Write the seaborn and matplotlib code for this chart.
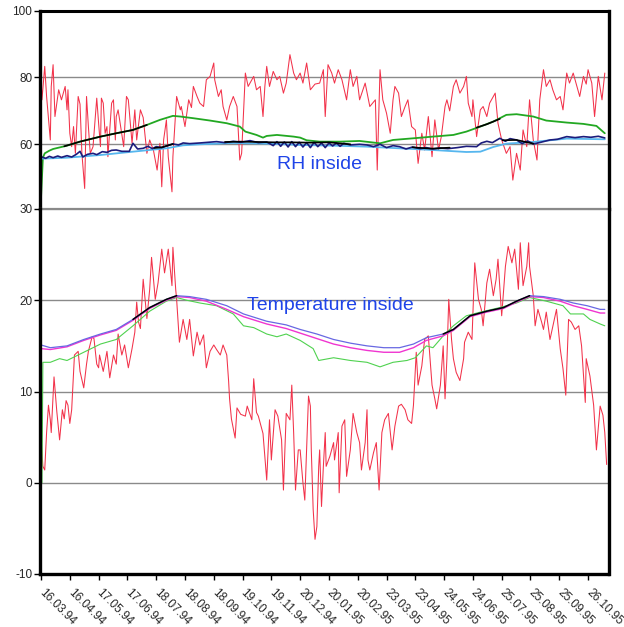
import matplotlib
matplotlib.use("Agg")
import matplotlib.pyplot as plt
import pandas as pd
import seaborn as sns

# Days counted from 16.03.94; x ticks every 31 days
tick_days = [0, 31, 62, 93, 124, 155, 186, 217, 248, 279, 310, 341, 372, 403, 434, 465, 496, 527, 558, 589]
tick_dates = ["16.03.94", "16.04.94", "17.05.94", "17.06.94", "18.07.94", "18.08.94",
              "18.09.94", "19.10.94", "19.11.94", "20.12.94", "20.01.95", "20.02.95",
              "23.03.95", "23.04.95", "24.05.95", "24.06.95", "25.07.95", "25.08.95",
              "25.09.95", "26.10.95"]
rh_ticks = [60, 80, 100]
temp_ticks = [-10, 0, 10, 20, 30]

# Relative humidity (%), (day, value)
rh_outside = [(0, 80.0), (1, 73.3), (4, 83.3), (6, 74.3), (10, 61.3), (11, 77.3), (13, 83.8), (15, 68.3),
              (19, 76.3), (22, 73.3), (26, 77.3), (28, 70.3), (29, 76.3), (31, 63.3), (33, 59.3), (35, 65.3),
              (37, 57.3), (40, 74.3), (42, 72.0), (44, 57.3), (47, 46.8), (49, 74.3), (51, 65.3), (53, 57.3),
              (56, 59.3), (60, 73.8), (62, 66.3), (64, 59.3), (65, 73.8), (67, 72.3), (69, 63.3), (71, 65.3),
              (72, 56.3), (76, 72.3), (78, 73.3), (80, 61.3), (81, 68.3), (83, 70.3), (89, 59.3), (92, 74.3),
              (94, 73.3), (98, 60.3), (101, 70.3), (103, 61.3), (107, 70.3), (110, 68.0), (114, 57.3),
              (117, 61.3), (121, 58.3), (125, 52.3), (128, 60.3), (130, 47.3), (132, 61.3), (135, 67.3),
              (137, 56.3), (141, 45.8), (142, 56.3), (146, 74.3), (150, 70.3), (151, 71.3), (155, 65.3),
              (159, 73.3), (162, 71.0), (164, 77.3), (168, 74.3), (171, 72.3), (175, 71.3), (178, 79.3),
              (182, 80.3), (186, 84.3), (187, 79.3), (191, 74.3), (194, 76.3), (196, 71.3), (200, 67.3),
              (203, 71.3), (207, 74.3), (211, 71.3), (214, 55.3), (216, 57.3), (220, 81.3), (223, 77.3),
              (229, 80.3), (232, 76.3), (236, 77.3), (239, 68.3), (241, 77.3), (243, 83.3), (246, 77.3),
              (250, 81.8), (254, 79.3), (257, 80.3), (261, 75.3), (264, 78.3), (268, 86.8), (272, 81.3),
              (275, 79.3), (279, 81.3), (282, 78.3), (286, 84.3), (290, 76.3), (295, 78.0), (300, 78.3),
              (304, 82.3), (306, 68.3), (309, 83.8), (313, 81.3), (316, 78.3), (320, 82.3), (324, 79.3),
              (329, 73.3), (333, 82.3), (336, 77.3), (340, 80.3), (343, 73.3), (349, 78.3), (354, 71.3),
              (360, 73.3), (362, 52.3), (365, 82.3), (368, 73.3), (372, 69.3), (376, 63.3), (379, 73.3),
              (381, 77.3), (385, 75.3), (388, 68.3), (392, 71.3), (395, 73.3), (399, 65.3), (403, 64.3),
              (406, 54.3), (410, 63.3), (413, 58.3), (417, 68.3), (421, 56.3), (424, 67.3), (428, 58.3),
              (431, 62.3), (435, 71.3), (437, 73.3), (440, 70.0), (444, 77.3), (447, 79.3), (451, 75.3),
              (455, 77.3), (458, 80.3), (460, 72.3), (464, 68.3), (465, 73.3), (469, 62.3), (473, 70.3),
              (476, 71.3), (480, 68.3), (483, 72.3), (489, 75.3), (492, 66.3), (496, 61.3), (501, 57.3),
              (505, 59.3), (508, 49.3), (512, 57.3), (516, 52.3), (519, 64.3), (523, 59.3), (526, 73.3),
              (530, 61.3), (534, 55.3), (537, 73.3), (541, 82.3), (544, 77.3), (548, 79.3), (551, 76.3),
              (555, 73.3), (559, 74.3), (562, 70.3), (566, 81.3), (569, 78.3), (573, 81.3), (577, 77.3),
              (580, 74.3), (584, 80.3), (587, 78.0), (589, 82.3), (593, 78.3), (596, 68.3), (600, 80.3),
              (604, 73.3), (607, 81.3)]

rh_green = [(0, 44.0), (2, 56.0), (4, 57.3), (9, 58.1), (13, 58.6), (28, 59.6), (42, 60.8), (64, 62.3),
            (81, 63.3), (99, 64.3), (114, 65.8), (128, 67.3), (142, 68.5), (150, 68.3), (164, 67.8),
            (182, 67.1), (200, 66.3), (214, 65.3), (220, 63.8), (232, 62.8), (239, 62.0), (243, 62.5),
            (254, 62.8), (272, 62.3), (279, 62.0), (286, 61.2), (300, 60.8), (322, 60.8), (343, 61.0),
            (365, 60.3), (379, 61.3), (401, 61.8), (422, 62.3), (444, 62.8), (458, 63.8), (473, 65.3),
            (487, 66.8), (501, 68.8), (512, 69.0), (530, 68.3), (544, 67.1), (566, 66.5), (584, 66.1),
            (598, 65.5), (607, 63.3)]

rh_light = [(0, 55.7), (28, 56.0), (64, 56.8), (99, 57.8), (135, 58.8), (153, 59.7), (171, 60.0),
            (207, 60.4), (243, 60.2), (279, 59.8), (315, 59.6), (351, 59.3), (386, 58.8), (422, 58.3),
            (458, 57.7), (473, 57.8), (487, 59.2), (501, 60.2), (530, 60.7), (566, 61.7), (607, 61.5)]

rh_navy = [(0, 56.3), (5, 55.8), (9, 56.4), (13, 56.0), (18, 56.5), (22, 56.1), (28, 56.6), (33, 56.2),
           (38, 57.0), (42, 57.9), (45, 56.2), (50, 57.0), (56, 57.3), (60, 56.9), (66, 57.8), (71, 57.6),
           (76, 58.2), (81, 58.3), (87, 57.9), (95, 57.9), (99, 60.3), (104, 58.6), (110, 58.8),
           (115, 59.4), (120, 58.7), (124, 59.3), (130, 59.0), (135, 59.5), (142, 60.1), (148, 59.8),
           (153, 60.4), (160, 60.2), (171, 60.4), (180, 60.6), (189, 60.8), (198, 60.5), (207, 60.9),
           (215, 60.6), (225, 61.1), (234, 60.5), (243, 60.7), (250, 59.6), (254, 60.8), (258, 59.4),
           (262, 60.7), (266, 59.2), (270, 60.8), (274, 59.3), (278, 60.6), (282, 59.2), (286, 60.5),
           (290, 59.0), (294, 60.6), (298, 59.3), (302, 60.4), (306, 59.0), (310, 60.4), (314, 59.5),
           (318, 60.4), (322, 59.4), (326, 60.3), (333, 59.8), (343, 60.0), (351, 59.8), (358, 59.3),
           (365, 60.0), (372, 59.0), (379, 59.6), (386, 59.3), (393, 58.6), (400, 59.2), (408, 58.7),
           (415, 59.0), (422, 58.6), (430, 58.9), (438, 58.7), (448, 59.0), (458, 59.4), (469, 59.3),
           (474, 60.4), (480, 60.9), (486, 60.5), (494, 61.8), (500, 60.9), (505, 61.7), (512, 61.3),
           (518, 60.2), (524, 61.0), (530, 60.1), (538, 60.6), (548, 61.3), (556, 61.5), (566, 62.3),
           (575, 62.0), (584, 62.3), (592, 62.1), (600, 62.4), (607, 61.9)]

rh_black_segments = [
    [(25, 59.4), (42, 60.8), (64, 62.3), (81, 63.3), (99, 64.3), (114, 65.8)],
    [(122, 58.9), (130, 59.1), (142, 60.1)],
    [(198, 60.7), (215, 60.8), (234, 60.7), (250, 60.6), (268, 60.6), (290, 60.5), (310, 60.6), (333, 60.0)],
    [(400, 59.1), (420, 58.7), (440, 59.0)],
    [(469, 65.0), (480, 66.0), (494, 67.6)],
    [(497, 61.2), (512, 61.3), (530, 60.2)],
]

# Temperature (deg C), (day, value)
temp_outside = [(0, 5.0), (2, 1.8), (4, 1.4), (6, 5.5), (8, 8.5), (10, 6.9), (11, 5.5), (13, 9.5),
                (14, 11.6), (17, 7.8), (20, 4.7), (23, 8.0), (25, 7.0), (27, 9.0), (29, 8.5), (31, 6.5),
                (33, 8.0), (36, 14.0), (40, 14.4), (42, 12.2), (46, 10.4), (49, 13.0), (51, 14.4),
                (55, 16.0), (57, 15.8), (60, 13.0), (62, 12.6), (63, 14.0), (67, 12.2), (71, 14.4),
                (74, 11.5), (78, 14.0), (81, 13.0), (83, 16.3), (87, 14.0), (90, 15.1), (94, 12.6),
                (98, 14.7), (101, 16.5), (103, 19.8), (105, 17.6), (107, 16.9), (110, 22.3), (114, 18.0),
                (117, 21.2), (119, 24.7), (123, 20.1), (126, 21.9), (130, 25.6), (133, 23.0), (137, 25.6),
                (141, 21.6), (142, 25.8), (145, 21.2), (146, 20.1), (149, 15.4), (153, 17.9), (157, 15.7),
                (160, 17.9), (164, 13.9), (168, 16.5), (171, 15.1), (175, 16.2), (178, 12.6), (182, 14.4),
                (186, 15.1), (189, 14.6), (193, 14.0), (196, 15.1), (200, 14.0), (202, 11.1), (203, 9.2),
                (205, 7.0), (209, 4.9), (211, 8.2), (215, 7.5), (220, 7.3), (222, 8.4), (227, 6.9),
                (229, 11.4), (232, 7.7), (234, 7.3), (239, 5.4), (243, 0.3), (246, 6.9), (248, 2.5),
                (252, 8.0), (255, 7.3), (259, 4.7), (261, -0.8), (264, 7.6), (268, 6.9), (270, 10.7),
                (272, 5.5), (274, -0.8), (277, 3.6), (279, 3.6), (282, 0.0), (284, -1.9), (288, 9.5),
                (290, 8.4), (291, 3.6), (293, -2.9), (295, -6.2), (297, -4.8), (299, 1.8), (300, 3.6),
                (302, -2.6), (304, 1.8), (306, 5.5), (307, 1.8), (311, 2.9), (315, 4.4), (316, 2.5),
                (320, 5.5), (321, -1.1), (324, 6.2), (327, 6.9), (329, 0.7), (333, 3.6), (336, 7.6),
                (340, 5.5), (343, 4.4), (345, 1.4), (349, 4.4), (351, 8.0), (352, 2.5), (354, 1.4),
                (358, 3.3), (361, 4.4), (364, -0.8), (367, 5.5), (370, 6.9), (374, 7.6), (378, 3.6),
                (381, 6.2), (385, 8.4), (388, 8.6), (392, 8.0), (395, 6.9), (399, 6.5), (401, 8.5),
                (404, 14.3), (406, 10.7), (410, 12.8), (413, 15.7), (417, 16.1), (421, 10.7), (424, 9.2),
                (426, 8.1), (430, 10.7), (433, 15.0), (435, 9.2), (437, 13.6), (439, 20.1), (442, 15.7),
                (444, 13.6), (447, 12.1), (451, 11.2), (455, 13.6), (456, 15.4), (460, 16.5), (464, 15.7),
                (467, 24.1), (471, 20.1), (474, 19.0), (476, 17.2), (480, 21.9), (483, 23.4), (487, 20.5),
                (490, 22.3), (492, 24.5), (496, 18.3), (500, 23.7), (503, 25.9), (507, 24.1), (510, 25.6),
                (514, 21.2), (516, 26.3), (519, 21.6), (523, 23.7), (525, 26.3), (526, 23.7), (530, 20.5),
                (532, 17.2), (535, 19.0), (539, 17.6), (541, 16.8), (544, 18.7), (548, 15.7), (552, 17.6),
                (555, 19.0), (559, 14.7), (562, 12.5), (565, 9.6), (568, 17.9), (571, 17.6), (575, 16.8),
                (579, 17.2), (582, 15.0), (586, 8.8), (587, 13.6), (591, 11.7), (595, 8.5), (598, 3.6),
                (602, 8.4), (605, 7.4), (607, 5.5), (609, 2.0)]

temp_blue = [(0, 15.1), (10, 14.8), (28, 15.0), (46, 15.7), (64, 16.3), (81, 16.8), (99, 17.9),
             (117, 19.2), (135, 20.1), (146, 20.5), (160, 20.4), (178, 20.1), (200, 19.4), (218, 18.5),
             (243, 17.7), (264, 17.3), (279, 16.8), (297, 16.3), (315, 15.7), (333, 15.3), (351, 15.0),
             (369, 14.8), (386, 14.8), (401, 15.2), (415, 15.9), (433, 16.3), (444, 16.8), (462, 18.3),
             (480, 18.8), (498, 19.2), (512, 19.9), (526, 20.5), (541, 20.4), (559, 20.1), (573, 19.7),
             (588, 19.4), (602, 19.0), (607, 19.0)]

temp_magenta = [(0, 14.7), (10, 14.6), (28, 14.9), (46, 15.6), (64, 16.2), (81, 16.7), (99, 17.8),
                (117, 19.1), (135, 20.0), (146, 20.4), (160, 20.3), (178, 19.9), (200, 19.0), (218, 18.2),
                (243, 17.4), (264, 16.9), (279, 16.4), (297, 15.8), (315, 15.2), (333, 14.8), (351, 14.5),
                (369, 14.3), (386, 14.3), (401, 14.8), (415, 15.6), (433, 16.1), (444, 16.7), (462, 18.2),
                (480, 18.7), (498, 19.1), (512, 19.8), (526, 20.4), (541, 20.3), (559, 19.9), (573, 19.4),
                (588, 19.0), (602, 18.6), (607, 18.6)]

temp_green = [(1, 0.0), (2, 13.2), (10, 13.2), (20, 13.6), (28, 13.4), (46, 14.3), (64, 15.2), (81, 15.7),
              (99, 17.2), (117, 18.8), (135, 19.9), (146, 20.3), (157, 20.0), (171, 19.7), (189, 19.4),
              (207, 18.5), (218, 17.2), (229, 17.0), (243, 16.3), (254, 16.0), (264, 16.3), (279, 15.6),
              (293, 14.7), (299, 13.4), (315, 13.7), (333, 13.4), (351, 13.2), (365, 12.7), (379, 13.2),
              (394, 13.4), (403, 13.7), (415, 15.0), (422, 14.8), (433, 16.1), (444, 17.2), (458, 18.3),
              (473, 18.7), (494, 19.2), (512, 19.7), (526, 20.3), (544, 19.9), (562, 19.4), (570, 18.5),
              (584, 18.5), (591, 17.9), (602, 17.4), (607, 17.2)]

temp_black_segments = [
    [(99, 17.9), (117, 19.2), (135, 20.1), (146, 20.5)],
    [(433, 16.3), (444, 16.8), (462, 18.3), (480, 18.8), (498, 19.2), (512, 19.9), (526, 20.5)],
]


def frame(pairs):
    return pd.DataFrame(pairs, columns=["day", "value"])


def segments_frame(segments):
    rows = [(d, v, i) for i, seg in enumerate(segments) for d, v in seg]
    return pd.DataFrame(rows, columns=["day", "value", "seg"])


sns.set_theme(style="white")
plt.rcParams["font.family"] = ["Liberation Sans", "DejaVu Sans"]

fig = plt.figure(figsize=(6.24, 6.27), dpi=100)
left, width = 40 / 624, 568.5 / 624
top, mid, bottom = 1 - 10.5 / 627, 1 - 209 / 627, 1 - 574 / 627
ax_rh = fig.add_axes([left, mid, width, top - mid])
ax_t = fig.add_axes([left, bottom, width, mid - bottom])

line_kw = dict(x="day", y="value", estimator=None, legend=False)

# Upper panel: relative humidity
sns.lineplot(data=frame(rh_outside), ax=ax_rh, color="#f2324a", lw=0.75, **line_kw)
sns.lineplot(data=frame(rh_green), ax=ax_rh, color="#22a822", lw=1.3, **line_kw)
sns.lineplot(data=frame(rh_light), ax=ax_rh, color="#56b6ee", lw=1.3, **line_kw)
sns.lineplot(data=frame(rh_navy), ax=ax_rh, color="#1c1c7c", lw=1.2, **line_kw)
sns.lineplot(data=segments_frame(rh_black_segments), ax=ax_rh, units="seg", color="black", lw=1.2, **line_kw)

# Lower panel: temperature
sns.lineplot(data=frame(temp_outside), ax=ax_t, color="#f2324a", lw=0.75, **line_kw)
sns.lineplot(data=frame(temp_green), ax=ax_t, color="#4fd24f", lw=0.8, **line_kw)
sns.lineplot(data=frame(temp_magenta), ax=ax_t, color="#f035d0", lw=1.0, **line_kw)
sns.lineplot(data=frame(temp_blue), ax=ax_t, color="#6868e2", lw=0.9, **line_kw)
sns.lineplot(data=segments_frame(temp_black_segments), ax=ax_t, units="seg", color="black", lw=1.1, **line_kw)

label_color = "#1f44e8"
ax_rh.text(300, 52.5, "RH inside", color=label_color, fontsize=14, ha="center", va="baseline")
ax_t.text(311.5, 18.93, "Temperature inside", color=label_color, fontsize=14, ha="center", va="baseline")

for ax in (ax_rh, ax_t):
    ax.set_xlim(-1.1, 611)
    ax.set_xlabel("")
    ax.set_ylabel("")
    ax.grid(axis="y", color="#8a8a8a", lw=1.0)
    ax.grid(axis="x", visible=False)
    ax.tick_params(axis="y", direction="out", length=4, width=1, color="black",
                   labelsize=8.5, pad=1.5, left=True)
    for side in ("left", "right"):
        ax.spines[side].set_color("black")
        ax.spines[side].set_linewidth(2.4)

ax_rh.set_ylim(40.66, 100)
ax_rh.set_yticks(rh_ticks)
ax_rh.set_yticklabels([str(v) for v in rh_ticks])
ax_rh.set_xticks([])
ax_rh.spines["top"].set_color("black")
ax_rh.spines["top"].set_linewidth(2.2)
ax_rh.spines["bottom"].set_color("#8a8a8a")
ax_rh.spines["bottom"].set_linewidth(1.6)

ax_t.set_ylim(-10, 30)
ax_t.set_yticks(temp_ticks)
ax_t.set_yticklabels([str(v) for v in temp_ticks])
ax_t.spines["top"].set_visible(False)
ax_t.spines["bottom"].set_color("black")
ax_t.spines["bottom"].set_linewidth(2.4)
ax_t.set_xticks(tick_days)
ax_t.set_xticklabels(tick_dates, rotation=-45, ha="left", va="center", rotation_mode="anchor")
ax_t.tick_params(axis="x", direction="out", length=4, width=1, color="black",
                 labelsize=8.5, pad=8, bottom=True)

fig.savefig("out.png", dpi=100, facecolor="white")
